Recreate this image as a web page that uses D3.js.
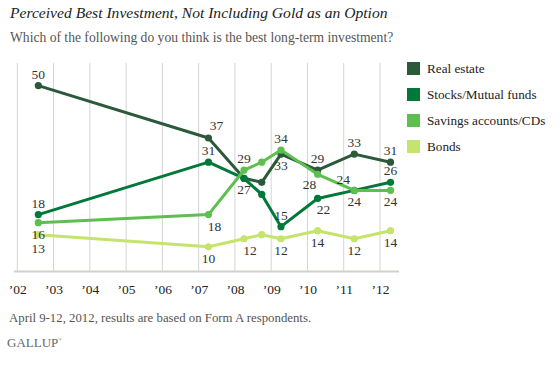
<!DOCTYPE html>
<html>
<head>
<meta charset="utf-8">
<script src="https://cdn.jsdelivr.net/npm/d3@7"></script>
<style>
  html, body { margin: 0; padding: 0; background: #fff; }
  svg { display: block; }
  svg text { font-family: "Liberation Serif", "DejaVu Serif", serif; }
</style>
</head>
<body>
<svg id="chart" width="560" height="367"></svg>
<script>
// ---- Data ----
const surveyDates = [2002.58, 2007.27, 2008.25, 2008.74, 2009.27, 2010.28, 2011.29, 2012.29];
const seriesNames = ["Real estate", "Stocks/Mutual funds", "Savings accounts/CDs", "Bonds"];
const realEstate = [50, 37, 27, 26, 33, 29, 33, 31];
const stocks     = [18, 31, 27, 23, 15, 22, 24, 26];
const savings    = [16, 18, 29, 31, 34, 28, 24, 24];
const bonds      = [13, 10, 12, 13, 12, 14, 12, 14];
const yearTicks  = [2002, 2003, 2004, 2005, 2006, 2007, 2008, 2009, 2010, 2011, 2012];
const tickLabels = ["\u201902", "\u201903", "\u201904", "\u201905", "\u201906", "\u201907", "\u201908", "\u201909", "\u201910", "\u201911", "\u201912"];

// which points carry a value label, and where (a = above, b = below); "" = none
const labelPlacement = [
  ["a", "ar", "", "", "b", "a", "a", "a"],        // Real estate
  ["a", "a", "b", "", "a", "br", "b", "a"],       // Stocks
  ["b", "br", "a", "", "a", "bl", "al", "b"],     // Savings
  ["bb", "b", "br", "", "b", "b", "b", "b"]       // Bonds
];

const colors = ["#2b5a3a", "#00783a", "#5cbf4f", "#c5e46d"];

// ---- Layout ----
const svg = d3.select("#chart");
const x = d3.scaleLinear().domain([2002, 2012]).range([17.3, 380]);
const y = d3.scaleLinear().domain([4, 55.6]).range([271, 63]);

// title
svg.append("text").attr("x", 10).attr("y", 18)
  .attr("font-size", 15.6).attr("font-style", "italic").attr("fill", "#222")
  .text("Perceived Best Investment, Not Including Gold as an Option");
svg.append("text").attr("x", 10).attr("y", 42)
  .attr("font-size", 13.6).attr("fill", "#555")
  .text("Which of the following do you think is the best long-term investment?");

// gridlines
svg.append("g").selectAll("line").data(yearTicks).join("line")
  .attr("x1", d => x(d)).attr("x2", d => x(d))
  .attr("y1", y(55.6)).attr("y2", y(4))
  .attr("stroke", "#d4d4d4").attr("stroke-width", 1);

// axis
const xAxis = d3.axisBottom(x).tickValues(yearTicks)
  .tickFormat((d, i) => tickLabels[i]).tickSize(0).tickPadding(13);
const ax = svg.append("g").attr("transform", `translate(0,${y(4)})`).call(xAxis);
ax.attr("font-family", null).attr("font-size", null);
ax.select(".domain").remove();
ax.selectAll("text").style("font-family", "'Liberation Serif', serif").style("font-size", "13.5px").attr("fill", "#222");
svg.append("line").attr("x1", 14).attr("x2", 399).attr("y1", y(4) + 0.5).attr("y2", y(4) + 0.5)
  .attr("stroke", "#d2d2cc").attr("stroke-width", 2);

// series
const allSeries = [realEstate, stocks, savings, bonds];
const line = d3.line().x((d, i) => x(surveyDates[i])).y(d => y(d));
const drawOrder = [3, 0, 1, 2];
drawOrder.forEach(si => {
  const vals = allSeries[si];
  const g = svg.append("g");
  g.append("path").datum(vals).attr("d", line)
    .attr("fill", "none").attr("stroke", colors[si]).attr("stroke-width", 3)
    .attr("stroke-linejoin", "round");
  g.selectAll("circle").data(vals).join("circle")
    .attr("cx", (d, i) => x(surveyDates[i])).attr("cy", d => y(d))
    .attr("r", 3.6).attr("fill", colors[si]);
});

// value labels
const offsets = {
  a: [0, -7], b: [0, 16], bb: [0, 18], ar: [8, -8], br: [6, 16], bl: [-8, 15], al: [-11, -6]
};
const lg = svg.append("g").attr("font-size", 13.5).attr("fill", "#333").attr("text-anchor", "middle");
allSeries.forEach((vals, si) => {
  vals.forEach((v, i) => {
    const p = labelPlacement[si][i];
    if (!p) return;
    const o = offsets[p];
    lg.append("text").attr("x", x(surveyDates[i]) + o[0]).attr("y", y(v) + o[1]).text(v);
  });
});

// legend
const leg = svg.append("g").attr("transform", "translate(407,62)");
seriesNames.forEach((name, i) => {
  leg.append("rect").attr("x", 0).attr("y", i * 26).attr("width", 13).attr("height", 13).attr("fill", colors[i]);
  leg.append("text").attr("x", 20).attr("y", i * 26 + 10.5).attr("font-size", 13.2).attr("fill", "#222").text(name);
});

// footnote
svg.append("text").attr("x", 9).attr("y", 322).attr("font-size", 12.8).attr("fill", "#555")
  .text("April 9-12, 2012, results are based on Form A respondents.");
const gal = svg.append("text").attr("x", 7).attr("y", 347).attr("font-size", 13).attr("fill", "#666");
gal.append("tspan").text("GALLUP");
gal.append("tspan").attr("font-size", 5).attr("dy", -6).text("\u00AE");
</script>
</body>
</html>
